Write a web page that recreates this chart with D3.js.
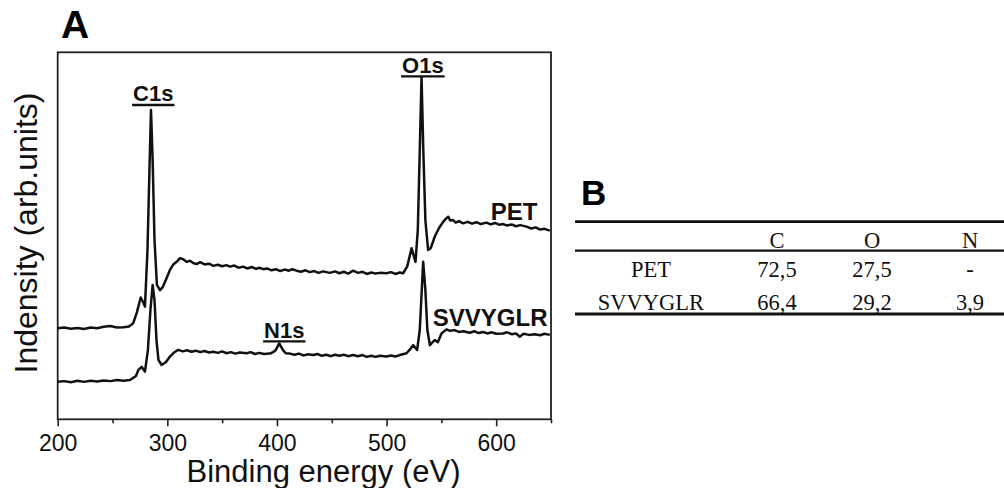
<!DOCTYPE html>
<html>
<head>
<meta charset="utf-8">
<script src="https://cdn.jsdelivr.net/npm/d3@7/dist/d3.min.js"></script>
<style>
body { margin: 0; background: #fff; }
svg { display: block; }
</style>
</head>
<body>
<svg id="canvas" width="1004" height="488"></svg>
<script>
// XPS survey spectra (intensity in arb. units, 0-100 = frame height)
let petEnergy = [200, 206, 212, 218, 224, 230, 236, 242, 248, 254, 260, 265, 268.9, 272.3, 275.7, 277.8, 279.6,
    281.9, 283.7, 285.1, 286.6, 288.3, 290.5, 293.3, 296, 299, 302.4, 305.5, 308.5, 311.5, 314.5, 317.5, 320.6,
    324, 326.7, 330, 334, 338, 342, 346, 350, 354, 357.1, 361, 365, 369, 373, 377, 381, 384, 387.5, 391, 395,
    399, 403, 407, 411, 414, 417.9, 422, 426, 430, 434, 438, 442, 448.3, 453, 457, 461, 465, 469.5, 474, 478,
    482, 486, 490, 494, 500, 504, 508, 512, 515.1, 518.8, 522.8, 526.4, 528.5, 530.3, 531.9, 533.5, 535.4,
    537.9, 540.4, 544, 548, 551.6, 554, 556.2, 558, 560.7, 563, 566, 569.8, 574, 578, 582, 586, 591.2, 595,
    599, 603, 606.3, 610, 614, 618, 622, 627.6, 632, 636, 640, 644, 648.9]
let petIntensity = [24.8, 25.0, 24.7, 24.9, 24.6, 25.0, 24.8, 25.2, 25.4, 25.0, 25.1, 25.3, 26.2, 29.2, 33.2, 32.0, 30.7,
    46.1, 67.9, 84.3, 70.7, 48.9, 36.6, 35.2, 36.1, 38.2, 40.7, 42.2, 42.9, 43.9, 43.6, 42.9, 43.2,
    42.5, 42.3, 42.8, 42.2, 42.4, 41.8, 42.1, 41.7, 42.0, 41.6, 41.9, 41.3, 41.6, 41.1, 41.5, 41.0, 41.3, 40.9, 41.1, 40.6,
    40.9, 40.4, 40.8, 40.5, 40.9, 40.5, 40.2, 40.6, 40.1, 40.4, 39.9, 40.3, 39.9, 40.3, 39.8, 40.2, 39.7, 40.5, 39.9, 40.2,
    39.6, 40.0, 39.7, 39.9, 39.8, 40.1, 39.6, 40.0, 39.8, 41.6, 46.6, 42.9, 51.6, 73.4, 93.3, 73.4, 54.3,
    46.1, 46.7, 49.8, 52.2, 53.8, 54.6, 55.2, 54.2, 54.3, 53.6, 54.0, 53.4, 53.8, 53.3, 53.7, 53.2, 53.6, 53.1,
    53.5, 53.0, 53.2, 52.8, 53.1, 52.6, 52.9, 52.5, 52.0, 52.3, 51.7, 51.9, 51.4]

let svvEnergy = [200, 206, 212, 218, 224, 230, 236, 242, 248, 254, 260, 265.9, 271.4, 273.5, 276.6, 279.6, 282.3,
    284.6, 286.6, 288.3, 290.1, 291.9, 294.8, 298.8, 302.4, 306, 310, 314, 318, 322, 326, 330, 334, 338, 341.9,
    346, 350, 354, 358, 362, 366, 372.3, 376, 380, 384, 388, 393.6, 397, 399, 402.1, 405.4, 408, 411.8, 416,
    420, 424, 428, 433.1, 437, 441, 445, 449, 453, 457, 461, 465, 469.5, 474, 478, 482, 486, 490, 494, 500,
    504, 508, 512, 518.2, 521, 524.2, 527.9, 530.3, 533.4, 535.4, 537.2, 539.5, 542, 544, 546.8, 550.1, 554.7,
    558, 562, 566, 570, 575.9, 580, 584, 588, 592, 596, 600, 606.3, 610, 614, 618, 621.5, 625, 630, 635.2,
    640, 644, 648.9]
let svvIntensity = [10.2, 10.4, 10.1, 10.5, 10.2, 10.5, 10.3, 10.6, 10.4, 10.7, 10.5, 10.7, 11.8, 13.4, 14.3, 13.0, 18.9,
    29.8, 36.6, 32.5, 21.6, 16.2, 14.8, 15.6, 17.1, 18.2, 18.9, 18.5, 18.8, 18.4, 18.7, 18.3, 18.6, 18.2, 18.4,
    18.1, 18.5, 18.0, 18.3, 17.9, 18.2, 18.0, 18.3, 17.8, 18.1, 17.8, 17.9, 18.4, 18.9, 20.7, 18.9, 18.0, 17.9, 17.6,
    17.9, 17.4, 17.7, 17.5, 17.8, 17.3, 17.6, 17.2, 17.6, 17.3, 17.6, 17.2, 17.5, 17.2, 17.5, 17.0, 17.3, 17.0, 17.3, 17.1,
    17.4, 17.1, 17.5, 18.0, 18.9, 20.2, 18.9, 24.4, 42.9, 35.2, 24.4, 20.2, 21.0, 21.6, 21.0, 23.4, 24.5,
    24.1, 24.3, 23.8, 24.0, 23.6, 24.0, 23.5, 23.8, 23.4, 23.7, 23.3, 23.4, 23.7, 23.2, 23.4, 22.5, 23.3, 23.0, 23.2,
    22.9, 23.3, 23.0]

let majorTicks = [200, 300, 400, 500, 600]
let minorTicks = [250, 350, 450, 550, 650]

let seriesNames = ['PET', 'SVVYGLR']
let seriesLabelEnergy = [595.1, 542.2]
let seriesLabelLevel = [54.3, 25.4]

let peakNames = ['C1s', 'O1s', 'N1s']
let peakLabelEnergy = [287.2, 533.1, 406.7]
let peakLabelLevel = [86.6, 94.4, 22.2]

let tableColumns = ['', 'C', 'O', 'N']
let tableSamples = ['PET', 'SVVYGLR']
let carbonValues = ['72,5', '66,4']
let oxygenValues = ['27,5', '29,2']
let nitrogenValues = ['-', '3,9']

let canvas = d3.select('#canvas')
let sans = "'Liberation Sans', Arial, sans-serif"
let serif = "'Liberation Serif', 'Times New Roman', serif"

let plotLeft = 57.7
let plotRight = 551
let plotTop = 52.3
let plotBottom = 419.3

let xScale = d3.scaleLinear().domain([200, 650]).range([plotLeft, plotRight])
let yScale = d3.scaleLinear().domain([0, 100]).range([plotBottom, plotTop])

let drawSpectra = () => {

    let minorAxis = d3.axisBottom(xScale)
        .tickValues(minorTicks)
        .tickSize(4)
        .tickFormat('')
    canvas.append('g')
        .attr('transform', 'translate(0, ' + plotBottom + ')')
        .call(minorAxis)
        .call(g => g.select('.domain').remove())
        .selectAll('line').attr('stroke', '#222').attr('stroke-width', 1.6)

    let majorAxis = d3.axisBottom(xScale)
        .tickValues(majorTicks)
        .tickSize(7)
        .tickFormat(d3.format('d'))
    let axisG = canvas.append('g')
        .attr('transform', 'translate(0, ' + plotBottom + ')')
        .call(majorAxis)
    axisG.select('.domain').remove()
    axisG.selectAll('line').attr('stroke', '#222').attr('stroke-width', 1.6)
    axisG.selectAll('text')
        .attr('y', 31.7)
        .attr('dy', null)
        .attr('fill', '#111')
        .style('font-family', sans)
        .style('font-size', '23px')

    canvas.append('rect')
        .attr('x', plotLeft)
        .attr('y', plotTop)
        .attr('width', plotRight - plotLeft)
        .attr('height', plotBottom - plotTop)
        .attr('fill', 'none')
        .attr('stroke', '#222')
        .attr('stroke-width', 1.8)

    let line = d3.line()
        .x(d => xScale(d[0]))
        .y(d => yScale(d[1]))

    let series = [
        d3.zip(petEnergy, petIntensity),
        d3.zip(svvEnergy, svvIntensity)
    ]

    canvas.selectAll('path.spectrum')
        .data(series)
        .enter()
        .append('path')
        .attr('class', 'spectrum')
        .attr('d', line)
        .attr('fill', 'none')
        .attr('stroke', '#111')
        .attr('stroke-width', 2.5)
        .attr('stroke-linejoin', 'round')

    canvas.selectAll('text.series')
        .data(seriesNames)
        .enter()
        .append('text')
        .attr('class', 'series')
        .attr('x', (d, i) => xScale(seriesLabelEnergy[i]))
        .attr('y', (d, i) => yScale(seriesLabelLevel[i]))
        .style('font-family', sans)
        .style('font-size', '24px')
        .style('font-weight', 'bold')
        .attr('fill', '#111')
        .text(d => d)

    peakNames.forEach((name, i) => {
        let cx = xScale(peakLabelEnergy[i])
        let by = yScale(peakLabelLevel[i])
        let label = canvas.append('text')
            .attr('x', cx)
            .attr('y', by)
            .attr('text-anchor', 'middle')
            .style('font-family', sans)
            .style('font-size', '22px')
            .style('font-weight', 'bold')
            .attr('fill', '#111')
            .text(name)
        let w = label.node().getComputedTextLength()
        canvas.append('line')
            .attr('x1', cx - w / 2 - 1)
            .attr('x2', cx + w / 2 + 1)
            .attr('y1', by + 3.5)
            .attr('y2', by + 3.5)
            .attr('stroke', '#111')
            .attr('stroke-width', 2.4)
    })

    canvas.append('text')
        .attr('x', 323.5)
        .attr('y', 482)
        .attr('text-anchor', 'middle')
        .style('font-family', sans)
        .style('font-size', '31px')
        .attr('fill', '#111')
        .text('Binding energy (eV)')

    canvas.append('text')
        .attr('transform', 'translate(36.5, 233) rotate(-90)')
        .attr('text-anchor', 'middle')
        .style('font-family', sans)
        .style('font-size', '32px')
        .attr('fill', '#111')
        .text('Indensity (arb.units)')

    canvas.append('text')
        .attr('x', 61)
        .attr('y', 38)
        .style('font-family', sans)
        .style('font-size', '39px')
        .style('font-weight', 'bold')
        .text('A')
}

let drawTable = () => {

    canvas.append('text')
        .attr('x', 581)
        .attr('y', 205)
        .style('font-family', sans)
        .style('font-size', '35px')
        .style('font-weight', 'bold')
        .text('B')

    let colX = d3.scaleOrdinal().domain(tableColumns).range([651, 777, 872, 970])
    let rowY = d3.scaleOrdinal().domain(['head'].concat(tableSamples)).range([247.5, 276.5, 309.5])

    let rules = [[221.7, 2.8], [250.7, 2.2], [314, 2.8]]
    canvas.selectAll('line.rule')
        .data(rules)
        .enter()
        .append('line')
        .attr('class', 'rule')
        .attr('x1', 575)
        .attr('x2', 1004)
        .attr('y1', d => d[0])
        .attr('y2', d => d[0])
        .attr('stroke', '#111')
        .attr('stroke-width', d => d[1])

    let cells = []
    tableColumns.forEach(c => {
        if (c !== '') cells.push({ col: c, row: 'head', text: c })
    })
    tableSamples.forEach((s, i) => {
        cells.push({ col: '', row: s, text: s })
        cells.push({ col: 'C', row: s, text: carbonValues[i] })
        cells.push({ col: 'O', row: s, text: oxygenValues[i] })
        cells.push({ col: 'N', row: s, text: nitrogenValues[i] })
    })

    canvas.selectAll('text.cell')
        .data(cells)
        .enter()
        .append('text')
        .attr('class', 'cell')
        .attr('x', d => colX(d.col))
        .attr('y', d => rowY(d.row))
        .attr('text-anchor', 'middle')
        .style('font-family', serif)
        .style('font-size', '22.5px')
        .attr('fill', '#111')
        .text(d => d.text)
}

drawSpectra()
drawTable()
</script>
</body>
</html>
